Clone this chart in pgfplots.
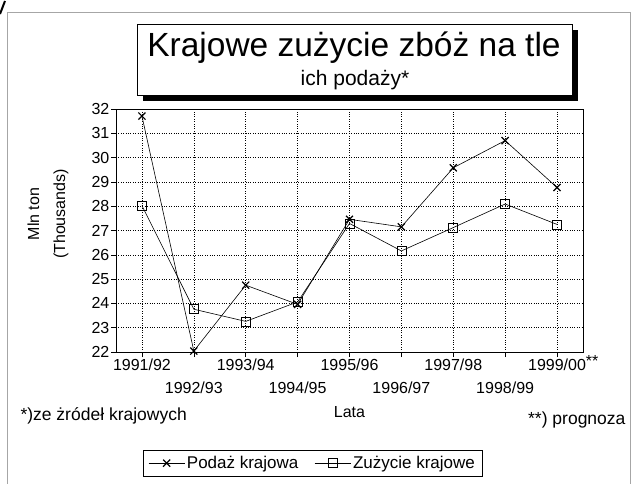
\documentclass[border=0pt]{standalone}
\usepackage{pgfplots}
\pgfplotsset{compat=1.18}
\usepackage{fontspec}
\setmainfont{Liberation Sans}
\newcommand{\fs}[1]{\fontsize{#1}{#1}\selectfont}
\begin{document}
\begin{tikzpicture}[x=1pt,y=1pt]
\path[use as bounding box] (0,0) rectangle (632,-484);
% outer frame
\draw[gray!70, line width=0.8pt] (7,-484) -- (7,-12) -- (630,-12) -- (630,-484);
\draw[black, line width=2pt] (0,-14) -- (5,-1);
% title box with shadow
\fill[black] (143,-30) rectangle (578,-101);
\draw[black, line width=0.6pt, fill=white] (137,-24) rectangle (572,-95);
\node[anchor=base] at (354,-57) {\fs{33.5}Krajowe zużycie zbóż na tle};
\node[anchor=base] at (355,-86) {\fs{21}ich podaży*};
% axis
\begin{axis}[
  at={(116pt,-352pt)}, anchor=south west,
  scale only axis, width=467pt, height=243pt,
  xmin=-0.5, xmax=8.5, ymin=22, ymax=32,
  xtick={0,1,...,8}, ytick={22,23,...,32},
  xticklabels={{1991/92},{\strut\\[6pt]1992/93},{1993/94},{\strut\\[6pt]1994/95},{1995/96},{\strut\\[6pt]1996/97},{1997/98},{\strut\\[6pt]1998/99},{1999/00\rlap{\smash{\raisebox{4pt}{**}}}}},
  xticklabel style={font=\fs{16}, align=center, inner sep=2pt},
  yticklabel style={font=\fs{16}, inner sep=1.5pt},
  /pgf/number format/assume math mode=true,
  tick align=outside, major tick length=5pt,
  xtick pos=bottom, ytick pos=left,
  tick style={black, line width=0.6pt},
  axis line style={black, line width=0.7pt},
  grid=major,
  major grid style={black, dotted, line width=0.6pt},
  legend columns=2,
  legend style={at={(axis cs:0.02,17.97)}, anchor=north west, draw=black, line width=0.7pt,
    font=\fs{17}, text depth=14pt, inner xsep=5pt, inner ysep=4pt,
    /tikz/every even column/.append style={column sep=14pt}},
  legend image code/.code={\draw[mark repeat=2,mark phase=2,#1] plot coordinates {(0pt,0pt) (18pt,0pt) (36pt,0pt)};},
]
\addplot[black, line width=0.6pt, mark=x, mark size=5pt, mark options={line width=1.2pt}] coordinates {
 (0,31.71) (1,22.04) (2,24.75) (3,23.96) (4,27.46) (5,27.15) (6,29.58) (7,30.70) (8,28.77)};
\addlegendentry{Podaż krajowa}
\addplot[black, line width=0.6pt, mark=square, mark size=4.5pt, mark options={line width=0.6pt}] coordinates {
 (0,28.02) (1,23.76) (2,23.26) (3,24.06) (4,27.29) (5,26.16) (6,27.12) (7,28.09) (8,27.25)};
\addlegendentry{Zużycie krajowe}
\end{axis}
% y label
\node[rotate=90, align=center, font=\fs{16}] at (48,-214) {Mln ton\\[10pt](Thousands)};
% x label and footnotes
\node[font=\fs{16}] at (349.5,-412) {Lata};
\node[font=\fs{17.5}, anchor=west] at (17,-416) {*)ze żródeł krajowych};
\node[font=\fs{17.5}, anchor=east] at (629,-420) {**) prognoza};
\end{tikzpicture}
\end{document}
